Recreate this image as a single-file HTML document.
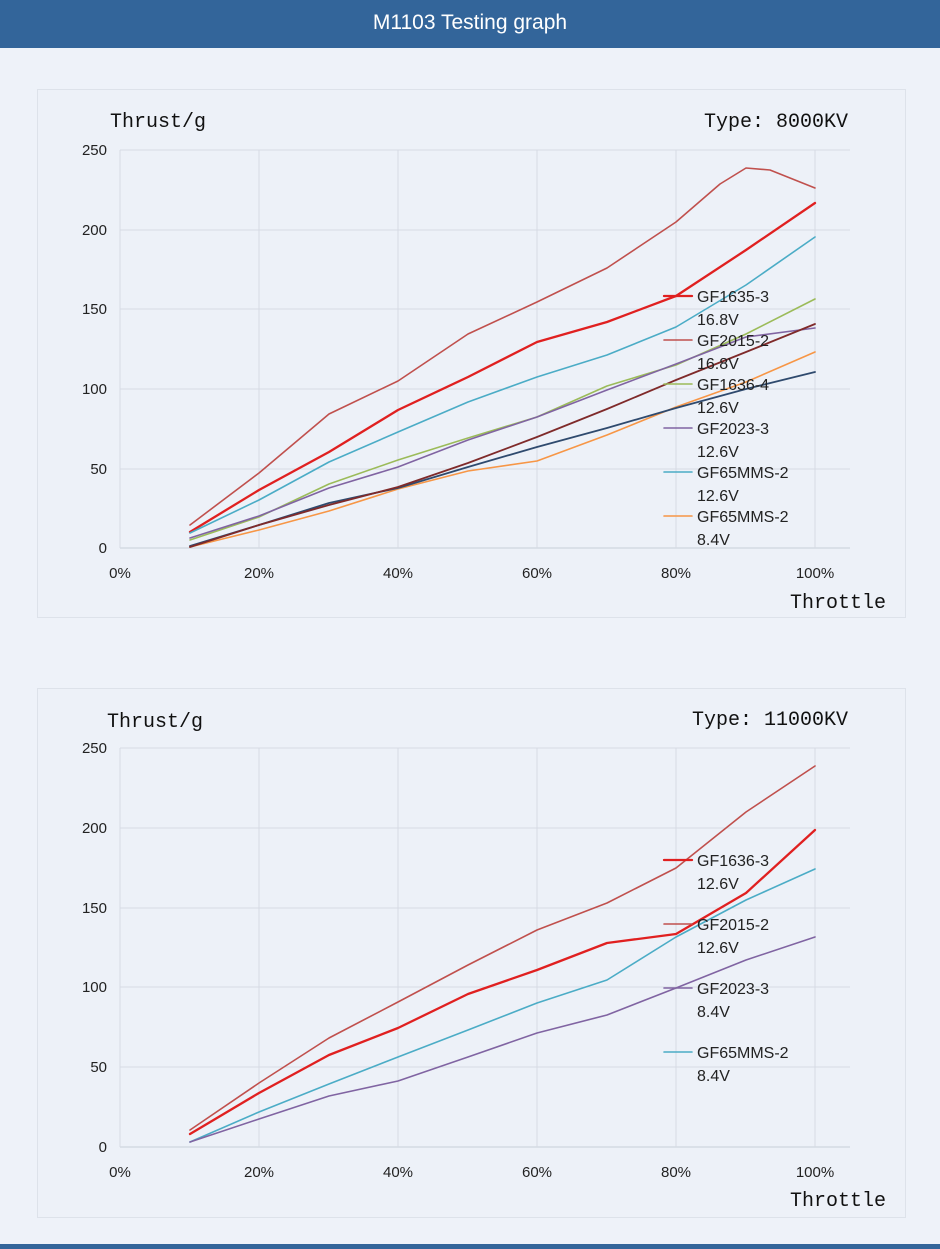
<!DOCTYPE html>
<html><head><meta charset="utf-8"><style>
html,body{margin:0;padding:0;background:#eef2f9;}
body{width:940px;height:1249px;position:relative;overflow:hidden;font-family:"Liberation Sans",sans-serif;}
.hdr{position:absolute;left:0;top:0;width:940px;height:48px;background:#33659a;color:#fff;font-size:21px;text-align:center;line-height:46px;}
.bot{position:absolute;left:0;top:1244px;width:940px;height:5px;background:#33659a;}
svg{position:absolute;left:0;top:0;}
</style></head><body>
<div class="hdr">M1103 Testing graph</div>
<div class="bot"></div>
<svg width="940" height="1249" font-family="Liberation Sans, sans-serif">
<rect x="37.5" y="89.5" width="868" height="528" fill="#edf1f8" stroke="#dde2ea"/>
<rect x="37.5" y="688.5" width="868" height="529" fill="#edf1f8" stroke="#dde2ea"/>
<g stroke="#d6dbe4" stroke-width="1">
<line x1="120" y1="150" x2="850" y2="150"/><line x1="120" y1="230" x2="850" y2="230"/><line x1="120" y1="309" x2="850" y2="309"/><line x1="120" y1="389" x2="850" y2="389"/><line x1="120" y1="469" x2="850" y2="469"/><line x1="120" y1="548" x2="850" y2="548" stroke="#c8ced8"/>
<line x1="120" y1="150" x2="120" y2="548"/><line x1="259" y1="150" x2="259" y2="548"/><line x1="398" y1="150" x2="398" y2="548"/><line x1="537" y1="150" x2="537" y2="548"/><line x1="676" y1="150" x2="676" y2="548"/><line x1="815" y1="150" x2="815" y2="548"/>
<line x1="120" y1="748" x2="850" y2="748"/><line x1="120" y1="828" x2="850" y2="828"/><line x1="120" y1="908" x2="850" y2="908"/><line x1="120" y1="987" x2="850" y2="987"/><line x1="120" y1="1067" x2="850" y2="1067"/><line x1="120" y1="1147" x2="850" y2="1147" stroke="#c8ced8"/>
<line x1="120" y1="748" x2="120" y2="1147"/><line x1="259" y1="748" x2="259" y2="1147"/><line x1="398" y1="748" x2="398" y2="1147"/><line x1="537" y1="748" x2="537" y2="1147"/><line x1="676" y1="748" x2="676" y2="1147"/><line x1="815" y1="748" x2="815" y2="1147"/>
</g>
<g font-size="15" fill="#222" text-anchor="end">
<text x="107" y="155">250</text><text x="107" y="235">200</text><text x="107" y="314">150</text><text x="107" y="394">100</text><text x="107" y="474">50</text><text x="107" y="553">0</text>
<text x="107" y="753">250</text><text x="107" y="833">200</text><text x="107" y="913">150</text><text x="107" y="992">100</text><text x="107" y="1072">50</text><text x="107" y="1152">0</text>
</g>
<g font-size="15" fill="#222" text-anchor="middle">
<text x="120" y="578">0%</text><text x="259" y="578">20%</text><text x="398" y="578">40%</text><text x="537" y="578">60%</text><text x="676" y="578">80%</text><text x="815" y="578">100%</text>
<text x="120" y="1177">0%</text><text x="259" y="1177">20%</text><text x="398" y="1177">40%</text><text x="537" y="1177">60%</text><text x="676" y="1177">80%</text><text x="815" y="1177">100%</text>
</g>
<g font-family="Liberation Mono, monospace" font-size="20" fill="#111">
<text x="110" y="127">Thrust/g</text><text x="848" y="127" text-anchor="end">Type:  8000KV</text><text x="790" y="608">Throttle</text>
<text x="107" y="727">Thrust/g</text><text x="848" y="725" text-anchor="end">Type: 11000KV</text><text x="790" y="1206">Throttle</text>
</g>
<g fill="none" stroke-linejoin="round" stroke-linecap="round">
<polyline stroke="#c0504d" stroke-width="1.6" points="190,525 259,473 329,414 398,381 468,334 537,302 607,268 676,222 720,184 746,168 770,170 815,188"/>
<polyline stroke="#e02020" stroke-width="2.3" points="190,532 259,490 329,452 398,410 468,377 537,342 607,322 676,296 746,250 815,203"/>
<polyline stroke="#4bacc6" stroke-width="1.6" points="190,533 259,500 329,462 398,432 468,402 537,377 607,355 676,327 746,285 815,237"/>
<polyline stroke="#9bbb59" stroke-width="1.6" points="190,540 259,517 329,484 398,460 468,438 537,417 607,386 676,365 746,334 815,299"/>
<polyline stroke="#8064a2" stroke-width="1.6" points="190,538 259,516 329,488 398,467 468,440 537,417 607,390 676,364 746,337 815,328"/>
<polyline stroke="#f79646" stroke-width="1.6" points="190,547 259,530 329,511 398,489 468,471 537,461 607,435 676,407 746,382 815,352"/>
<polyline stroke="#2f4a6e" stroke-width="1.8" points="190,546 259,525 329,503 398,488 468,467 537,447 607,428 676,408 746,389 815,372"/>
<polyline stroke="#7f2a2a" stroke-width="1.8" points="190,547 259,525 329,505 398,487 468,463 537,437 607,409 676,380 746,352 815,324"/>
<polyline stroke="#c0504d" stroke-width="1.6" points="190,1130 259,1083 329,1038 398,1002 468,965 537,930 607,903 676,868 746,812 815,766"/>
<polyline stroke="#e02020" stroke-width="2.3" points="190,1134 259,1093 329,1055 398,1028 468,994 537,970 607,943 676,934 746,893 815,830"/>
<polyline stroke="#4bacc6" stroke-width="1.6" points="190,1142 259,1112 329,1084 398,1057 468,1030 537,1003 607,980 676,937 746,900 815,869"/>
<polyline stroke="#8064a2" stroke-width="1.6" points="190,1142 259,1119 329,1096 398,1081 468,1057 537,1033 607,1015 676,988 746,960 815,937"/>
<line x1="664" y1="296" x2="692" y2="296" stroke="#e02020" stroke-width="2.3"/>
<line x1="664" y1="340" x2="692" y2="340" stroke="#c0504d" stroke-width="1.6"/>
<line x1="664" y1="384" x2="692" y2="384" stroke="#9bbb59" stroke-width="1.6"/>
<line x1="664" y1="428" x2="692" y2="428" stroke="#8064a2" stroke-width="1.6"/>
<line x1="664" y1="472" x2="692" y2="472" stroke="#4bacc6" stroke-width="1.6"/>
<line x1="664" y1="516" x2="692" y2="516" stroke="#f79646" stroke-width="1.6"/>
<line x1="664" y1="860" x2="692" y2="860" stroke="#e02020" stroke-width="2.3"/>
<line x1="664" y1="924" x2="692" y2="924" stroke="#c0504d" stroke-width="1.6"/>
<line x1="664" y1="988" x2="692" y2="988" stroke="#8064a2" stroke-width="1.6"/>
<line x1="664" y1="1052" x2="692" y2="1052" stroke="#4bacc6" stroke-width="1.6"/>
</g>
<g font-size="16" fill="#222">
<text x="697" y="302">GF1635-3</text><text x="697" y="325">16.8V</text>
<text x="697" y="346">GF2015-2</text><text x="697" y="369">16.8V</text>
<text x="697" y="390">GF1636-4</text><text x="697" y="413">12.6V</text>
<text x="697" y="434">GF2023-3</text><text x="697" y="457">12.6V</text>
<text x="697" y="478">GF65MMS-2</text><text x="697" y="501">12.6V</text>
<text x="697" y="522">GF65MMS-2</text><text x="697" y="545">8.4V</text>
<text x="697" y="866">GF1636-3</text><text x="697" y="889">12.6V</text>
<text x="697" y="930">GF2015-2</text><text x="697" y="953">12.6V</text>
<text x="697" y="994">GF2023-3</text><text x="697" y="1017">8.4V</text>
<text x="697" y="1058">GF65MMS-2</text><text x="697" y="1081">8.4V</text>
</g>
</svg>
</body></html>
